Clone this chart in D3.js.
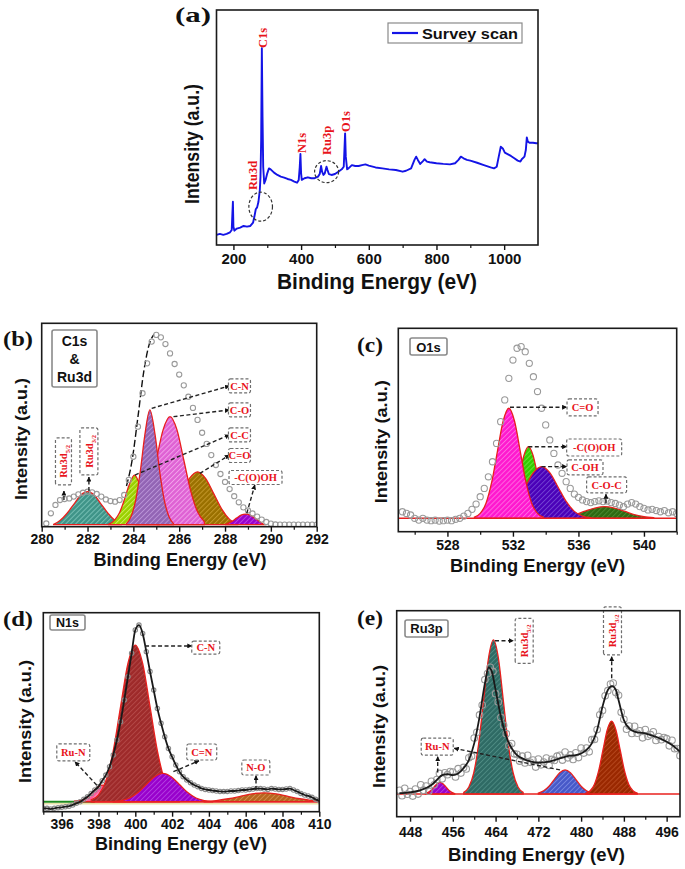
<!DOCTYPE html>
<html><head><meta charset="utf-8">
<script src="https://cdn.jsdelivr.net/npm/d3@7"></script>
<style>body{margin:0;background:#fff}svg{display:block}</style>
</head><body>
<script>
// ================= DATA =================
// (a) survey scan
const surveyEnergy = [150,160,170,180,190,195,197,198.5,200,203,210,220,230,240,250,258,262,266,270,274,278,280,282,284,286,288,291,295,300,305,310,320,330,340,350,360,370,380,388,393,396,398,400,402,410,420,430,440,450,455,459,462,466,470,475,478,482,490,500,510,520,526,530,532,536,540,550,560,570,580,590,600,620,640,660,680,700,710,725,735,740,745,752,760,765,772,780,800,820,840,855,865,872,880,890,900,920,940,960,970,978,984,990,996,1002,1010,1020,1030,1040,1048,1052,1060,1064,1067,1070,1075,1085,1095,1100];
const surveyIntensity = [4.3,4.7,4.3,4.7,5.4,6.4,13.5,18.4,7.8,6.1,7.0,7.4,8.1,7.8,8.1,9.5,12.1,15.2,16.0,18.4,23.4,29.1,44.7,83.7,54.6,33.3,26.2,27.7,30.5,32.6,32.2,30.8,29.8,29.1,28.7,28.1,27.7,27.0,26.5,27.7,33.3,38.7,30.5,27.7,28.4,28.8,28.4,28.4,29.1,30.2,33.6,31.2,29.8,30.5,33.3,31.9,30.2,29.8,30.2,31.2,32.2,33.3,47.5,37.6,32.2,32.6,34.0,33.6,33.6,34.0,34.3,33.8,33.0,32.6,32.2,31.9,31.2,31.6,32.6,36.2,37.6,36.2,34.5,35.7,36.5,35.5,35.2,34.8,34.5,34.3,34.8,36.2,37.6,36.9,36.2,35.9,35.0,34.0,33.0,32.6,33.3,37.6,41.8,41.1,39.3,38.7,37.9,36.9,35.9,35.5,36.5,37.6,40.4,45.8,44.0,43.5,43.5,43.3,43.3];
const surveyTicks = [200,400,600,800,1000];
const surveyMinorTicks = [300,500,700,900];
const surveyPeakLabels = [
  {text:"C1s", e:286, i:83.8}, {text:"N1s", e:402.4, i:39.1},
  {text:"Ru3p", e:476.2, i:38.3}, {text:"O1s", e:532.2, i:48.1}, {text:"Ru3d", e:257.7, i:23.4}];
const surveyCircles = [{e:280.5, i:16.3, rx:11.8, ry:14.5}, {e:475.3, i:31.2, rx:12, ry:11}];

// (b) C1s & Ru3d
const c1sEnergy = [280.2,280.4,280.6,280.8,281.0,281.2,281.4,281.6,281.8,282.0,282.2,282.4,282.6,282.8,283.0,283.2,283.4,283.6,283.8,284.0,284.2,284.4,284.6,284.8,285.0,285.2,285.4,285.6,285.8,286.0,286.2,286.4,286.6,286.8,287.0,287.2,287.4,287.6,287.8,288.0,288.2,288.4,288.6,288.8,289.0,289.2,289.4,289.6,289.8,290.0,290.2,290.4,290.6,290.8,291.0,291.2,291.4,291.6,291.8,292.0];
const c1sIntensity = [1.6,6.6,10.7,13.1,13.6,13.9,14.8,15.9,16.7,17.2,16.9,16.1,14.8,13.4,12.6,12.3,13.1,15.6,23.0,34.4,49.2,65.6,80.3,91.0,94.3,93.1,89.8,85.2,80.0,74.8,69.5,63.9,58.4,52.5,46.2,40.7,35.2,30.3,25.9,22.0,18.5,15.0,12.0,9.5,8.0,6.5,5.0,3.5,2.3,1.5,1.1,1.0,1.0,1.0,1.0,1.0,1.0,1.0,1.0,1.0];
const c1sFit = [[283.7,20],[283.95,33],[284.2,54],[284.45,76],[284.7,90],[284.9,94.5]];
const c1sRu3dPeak = [[280.5,1],[280.8,3],[281.1,6.5],[281.4,11],[281.7,15.5],[282.0,17.2],[282.3,15.5],[282.6,11],[282.9,6.5],[283.2,3],[283.5,1]];
const c1sCOPeak2 = [[285.05,1.2],[285.4,3.6],[285.75,8.8],[286.1,16.4],[286.45,23.8],[286.8,27],[287.15,23.8],[287.5,16.4],[287.85,8.8],[288.2,3.6],[288.55,1.2]];
const c1sCCPeak = [[282.9,1],[283.2,3.5],[283.4,7],[283.6,13],[283.8,20],[284.05,25.4],[284.3,20],[284.5,13],[284.7,7],[284.9,3.5],[285.1,1]];
const c1sCOPeak = [[284.1,2.4],[284.4,7.3],[284.7,17.6],[285.0,32.8],[285.3,47.7],[285.6,54.1],[285.9,47.7],[286.2,32.8],[286.5,17.6],[286.8,7.3],[287.1,2.4]];
const c1sCNPeak = [[283.7,1.5],[283.9,5],[284.1,13],[284.3,27],[284.5,45],[284.72,57.4],[284.95,45],[285.15,27],[285.35,13],[285.55,5],[285.75,1.5]];
const c1sCOOHPeak = [[288.0,1],[288.3,2.6],[288.5,4.2],[288.7,5.7],[288.9,6.2],[289.1,5.7],[289.3,4.2],[289.5,2.6],[289.7,1]];

// (c) O1s
const o1sEnergy = [525.25,525.5,525.75,526,526.25,526.5,526.75,527,527.25,527.5,527.75,528,528.25,528.5,528.75,529,529.25,529.5,529.75,530,530.25,530.5,530.75,531,531.25,531.5,531.75,532,532.25,532.5,532.75,533,533.25,533.5,533.75,534,534.25,534.5,534.75,535,535.25,535.5,535.75,536,536.25,536.5,536.75,537,537.25,537.5,537.75,538,538.25,538.5,538.75,539,539.25,539.5,539.75,540,540.25,540.5,540.75,541,541.25,541.5,541.75,542];
const o1sIntensity = [9.8,9.0,8.2,6.6,5.7,6.6,5.7,5.4,5.7,5.2,5.4,5.7,5.4,6.1,6.6,7.7,9.0,11.0,13.6,17.2,21.3,27.0,34.4,43.4,54.1,64.8,75.4,84.4,90.2,91.0,88.5,82.8,76.2,68.9,60.7,52.5,45.1,38.5,32.8,28.7,24.6,21.3,18.5,16.9,15.6,14.8,14.3,14.8,15.2,14.8,15.1,14.3,13.9,13.1,12.3,13.6,14.3,13.6,12.3,11.5,10.7,11.0,10.4,9.8,10.4,9.3,9.8,9.0];
const o1sCOCPeak = [[534.6,6.85],[535.2,7.4],[535.8,8.4],[536.4,10.1],[537.0,11.6],[537.6,12.3],[538.2,11.6],[538.8,10.1],[539.4,8.4],[540.0,7.4],[540.6,6.85]];
const o1sCOOHPeak = [[531.3,7.0],[531.575,8.1],[531.85,11.4],[532.125,18.0],[532.4,28.0],[532.675,37.6],[532.95,41.8],[533.225,37.6],[533.5,28.0],[533.775,18.0],[534.05,11.4],[534.325,8.1],[534.6,7.0]];
const o1sCOHPeak = [[530.75,6.9],[531.25,7.7],[531.75,10.0],[532.25,14.9],[532.75,22.0],[533.25,29.0],[533.75,32.0],[534.25,29.0],[534.75,22.0],[535.25,14.9],[535.75,10.0],[536.25,7.7],[536.75,6.9]];
const o1sCdOPeak = [[529.65,7.2],[530.0,9.0],[530.35,13.9],[530.7,24.2],[531.05,39.4],[531.4,54.3],[531.75,60.7],[532.1,54.3],[532.45,39.4],[532.8,24.2],[533.15,13.9],[533.5,9.0],[533.85,7.2]];

// (d) N1s
const n1sEnergy = [395.0,395.2,395.4,395.6,395.8,396.0,396.2,396.4,396.6,396.8,397.0,397.2,397.4,397.6,397.8,398.0,398.2,398.4,398.6,398.8,399.0,399.2,399.4,399.6,399.8,400.0,400.2,400.4,400.6,400.8,401.0,401.2,401.4,401.6,401.8,402.0,402.2,402.4,402.6,402.8,403.0,403.2,403.4,403.6,403.8,404.0,404.2,404.4,404.6,404.8,405.0,405.2,405.4,405.6,405.8,406.0,406.2,406.4,406.6,406.8,407.0,407.2,407.4,407.6,407.8,408.0,408.2,408.4,408.6,408.8,409.0,409.2,409.4,409.6,409.8,410.0];
const n1sIntensity = [1.7,1.7,1.3,1.7,2.0,2.2,2.5,2.8,3.4,4.2,5.0,6.2,7.5,9.2,10.9,12.6,15.6,18.4,22.6,28.5,36.0,45.2,56.1,67.8,79.6,91.3,93.8,89.6,80.4,70.4,61.1,51.9,44.4,37.7,31.8,27.6,23.5,20.1,17.6,15.9,14.6,13.4,12.6,11.7,11.2,10.9,10.6,10.4,10.2,10.1,10.2,10.4,10.4,10.6,10.9,10.9,11.2,11.4,11.6,11.6,11.4,11.2,11.6,11.4,11.2,11.2,11.4,11.6,10.9,10.1,9.2,8.4,7.9,7.2,6.2,5.5];
const n1sNOPeak = [[403.75,5.2],[404.4,5.6],[405.05,6.5],[405.7,7.7],[406.35,9.0],[407.0,9.5],[407.65,9.0],[408.3,7.7],[408.95,6.5],[409.6,5.6],[410.0,5.3]];
const n1sRuNPeak = [[396.7,5.3],[397.2,6.2],[397.45,7.7],[397.7,10.1],[397.95,12.4],[398.2,13.4],[398.45,12.4],[398.7,10.1],[398.95,7.7],[399.2,6.2],[399.7,5.3]];
const n1sCNPeak = [[397.6,5.9],[398.0,8.5],[398.4,15.6],[398.8,30.6],[399.2,52.8],[399.6,74.5],[400.0,83.75],[400.4,74.5],[400.8,52.8],[401.2,30.6],[401.6,15.6],[402.0,8.5],[402.4,5.9]];
const n1sCdNPeak = [[398.8,5.1],[399.25,5.6],[399.7,6.9],[400.15,9.6],[400.6,13.7],[401.05,17.6],[401.5,19.3],[401.95,17.6],[402.4,13.7],[402.85,9.6],[403.3,6.9],[403.75,5.6],[404.2,5.1]];

// (e) Ru3p
const ru3pEnergy = [446,446.5,447,447.5,448,448.5,449,449.5,450,450.5,451,451.5,452,452.5,453,453.5,454,454.5,455,455.5,456,456.5,457,457.5,458,458.5,459,459.5,460,460.5,461,461.5,462,462.5,463,463.5,464,464.5,465,465.5,466,466.5,467,467.5,468,468.5,469,469.5,470,470.5,471,471.5,472,472.5,473,473.5,474,474.5,475,475.5,476,476.5,477,477.5,478,478.5,479,479.5,480,480.5,481,481.5,482,482.5,483,483.5,484,484.5,485,485.5,486,486.5,487,487.5,488,488.5,489,489.5,490,490.5,491,491.5,492,492.5,493,493.5,494,494.5,495,495.5,496,496.5,497,497.5,498,498.5];
const ru3pIntensity = [12.8,10.2,13.8,10.9,12.2,10.0,13.4,11.0,15.5,12.9,14.9,12.4,17.2,15.5,18.0,21.0,18.4,21.3,20.4,21.9,21.7,19.3,23.3,21.2,23.9,23.2,28.6,29.4,38.2,41.0,49.4,54.2,66.5,69.5,72.5,70.5,59.7,55.7,48.2,44.4,40.3,34.5,35.5,30.5,30.3,27.0,29.4,26.1,29.8,26.4,27.5,24.1,28.0,25.2,26.5,28.5,24.9,27.8,27.3,29.4,29.8,27.5,31.4,28.6,30.0,27.8,31.0,28.7,33.3,30.9,33.3,31.5,37.4,37.5,42.3,49.5,51.6,58.7,61.2,64.4,64.9,60.3,58.9,50.7,47.3,42.5,44.0,40.4,43.9,40.5,41.7,38.3,42.3,39.0,39.8,41.2,37.0,38.9,37.4,38.4,37.9,34.4,37.1,33.0,33.1,29.6];
const ru3pFit = [[446,11.3],[448,11.8],[450,12.9],[452,15.4],[453,17.8],[454,20.2],[455,20.7],[456,20.2],[457,21.0],[458,23.5],[459,27.5],[460,35.6],[461,48.5],[462,64.7],[462.7,72.5],[463.3,70.4],[464,61.5],[465,48.5],[466,38.8],[467,33.2],[468,29.9],[469,28.3],[470,27.2],[472,26.2],[474,26.7],[476,28.3],[477,29.1],[478,29.6],[479,29.9],[480,30.7],[481,32.4],[482,35.6],[483,42.1],[484,53.4],[485,61.5],[485.8,63.4],[486.5,61.5],[487,56.6],[488,46.9],[489,42.9],[490,41.3],[491,40.8],[492,40.5],[493,39.6],[494,38.8],[495,37.7],[496,36.4],[497,34.8],[498,32.7],[498.5,31.6]];
const ru3pRuNPeak = [[450.85,11.25],[451.4,11.8],[451.95,12.85],[452.5,14.5],[453.05,16.0],[453.6,16.7],[454.15,16.0],[454.7,14.5],[455.25,12.85],[455.8,11.8],[456.35,11.25]];
const ru3pD52Peak = [[458.05,11.8],[458.975,14.3],[459.9,21.1],[460.825,35.3],[461.75,56.4],[462.675,77.0],[463.6,85.8],[464.525,77.0],[465.45,56.4],[466.375,35.3],[467.3,21.1],[468.225,14.3],[469.15,11.8]];
const ru3pMidPeak = [[472,11.5],[473,12.6],[474,14.8],[475,18.1],[476,21.3],[477,22.7],[478,21.3],[479,18.1],[480,14.8],[481,12.6],[482,11.5]];
const ru3pD32Peak = [[480.9,11.4],[481.7,12.6],[482.5,15.8],[483.3,22.5],[484.1,32.5],[484.9,42.2],[485.7,46.4],[486.5,42.2],[487.3,32.5],[488.1,22.5],[488.9,15.8],[489.7,12.6],[490.5,11.4]];

// ================= DRAWING =================
const SANS = "'Liberation Sans', Arial, sans-serif";
const SERIF = "'Liberation Serif', 'Times New Roman', serif";
const RED = "#e8141b";
const svg = d3.select("body").append("svg").attr("width",685).attr("height",869);
svg.append("rect").attr("width",685).attr("height",869).attr("fill","#fff");
const defs = svg.append("defs");
defs.append("marker").attr("id","ah").attr("viewBox","0 0 10 10").attr("refX",9).attr("refY",5)
  .attr("markerWidth",5).attr("markerHeight",5).attr("markerUnits","userSpaceOnUse").attr("orient","auto")
  .append("path").attr("d","M0,0L10,5L0,10z").attr("fill","#111");

function hatch(id, base, line){
  const p = defs.append("pattern").attr("id",id).attr("patternUnits","userSpaceOnUse")
    .attr("width",3.5).attr("height",3.5).attr("patternTransform","rotate(45)");
  p.append("rect").attr("width",3.5).attr("height",3.5).attr("fill",base);
  p.append("line").attr("x1",0.5).attr("y1",0).attr("x2",0.5).attr("y2",3.5).attr("stroke",line).attr("stroke-width",0.9);
}
const zip = (xs, ys) => xs.map((v,i)=>[v, ys[i]]);

function axisTitles(cfg){
  svg.append("text").attr("x",cfg.title.x).attr("y",cfg.title.y).attr("text-anchor","middle")
    .attr("font-family",SANS).attr("font-weight","bold").attr("font-size",cfg.title.size)
    .attr("textLength",cfg.title.len).attr("lengthAdjust","spacingAndGlyphs").attr("fill","#111")
    .text("Binding Energy (eV)");
  svg.append("text").attr("transform",`translate(${cfg.ytitle.x},${cfg.ytitle.y}) rotate(-90)`).attr("text-anchor","middle")
    .attr("font-family",SANS).attr("font-weight","bold").attr("font-size",cfg.ytitle.size)
    .attr("textLength",cfg.ytitle.len).attr("lengthAdjust","spacingAndGlyphs").attr("fill","#111")
    .text("Intensity (a.u.)");
  svg.append("text").attr("x",cfg.plabel.x).attr("y",cfg.plabel.y).attr("font-family",SERIF).attr("font-weight","bold")
    .attr("font-size",21).attr("textLength",cfg.plabel.len).attr("lengthAdjust","spacingAndGlyphs").attr("fill","#111")
    .text(cfg.plabel.text);
}
function bottomAxis(x, y1, major, minor, size, pad){
  const ga = svg.append("g").attr("transform",`translate(0,${y1})`)
    .call(d3.axisBottom(x).tickValues(major).tickSize(5).tickPadding(pad).tickFormat(d3.format("d")));
  ga.select(".domain").remove();
  ga.selectAll("line").attr("stroke","#111").attr("stroke-width",1.4);
  ga.selectAll("text").attr("font-family",SANS).attr("font-weight","bold").attr("font-size",size).attr("fill","#111");
  const gm = svg.append("g").attr("transform",`translate(0,${y1})`)
    .call(d3.axisBottom(x).tickValues(minor).tickSize(3).tickFormat(""));
  gm.select(".domain").remove();
  gm.selectAll("line").attr("stroke","#111").attr("stroke-width",1.2);
}
function frame(f){
  svg.append("rect").attr("x",f[0]).attr("y",f[1]).attr("width",f[2]-f[0]).attr("height",f[3]-f[1])
    .attr("fill","none").attr("stroke","#1a1a1a").attr("stroke-width",1.6);
}
function legendBox(lg){
  svg.append("rect").attr("x",lg.x).attr("y",lg.y).attr("width",lg.w).attr("height",lg.h).attr("rx",2)
    .attr("fill","#fff").attr("stroke","#8a8a8a").attr("stroke-width",1.6);
  lg.lines.forEach(([t,by])=>svg.append("text").attr("x",lg.x+lg.w/2).attr("y",by).attr("text-anchor","middle")
    .attr("font-family",SANS).attr("font-weight","bold").attr("font-size",lg.size||13).attr("fill","#111").text(t));
}
function labelBox(x, y, b){
  const g = svg.append("g").attr("transform",`translate(${x(b.e)},${y(b.i)})` + (b.rot?" rotate(-90)":""));
  g.append("rect").attr("x",-b.w/2).attr("y",-b.h/2).attr("width",b.w).attr("height",b.h).attr("rx",2)
    .attr("fill","#fff").attr("stroke","#6e6e6e").attr("stroke-width",1.2).attr("stroke-dasharray","3,2");
  const t = g.append("text").attr("text-anchor","middle").attr("dy","0.35em").attr("font-family",SERIF)
    .attr("font-weight","bold").attr("font-size",b.size||10.5).attr("fill",RED);
  t.append("tspan").text(b.text);
  if(b.sub) t.append("tspan").attr("font-size",6.5).attr("dy","3").text(b.sub);
}
function arrow(x, y, a){
  svg.append("line").attr("x1",x(a[0][0])).attr("y1",y(a[0][1])).attr("x2",x(a[1][0])).attr("y2",y(a[1][1]))
    .attr("stroke","#222").attr("stroke-width",1.4).attr("stroke-dasharray","4,2.5").attr("marker-end","url(#ah)");
}

function panel(cfg){
  const [x0,y0,x1,y1] = cfg.frame;
  const x = d3.scaleLinear().domain(cfg.xDomain).range([x0,x1]);
  const y = d3.scaleLinear().domain([0,100]).range([y1,y0]);
  defs.append("clipPath").attr("id","clip"+cfg.id).append("rect").attr("x",x0).attr("y",y0).attr("width",x1-x0).attr("height",y1-y0);
  const plot = svg.append("g").attr("clip-path",`url(#clip${cfg.id})`);
  (cfg.baselines||[]).forEach(b=>plot.append("line").attr("x1",x(b.from)).attr("x2",x(b.to)).attr("y1",y(b.v)).attr("y2",y(b.v))
    .attr("stroke",b.color).attr("stroke-width",b.w||1.6));
  cfg.components.forEach((c,i)=>{
    const pid = `h${cfg.id}${i}`; hatch(pid, c.fill, c.line);
    const area = d3.area().x(d=>x(d[0])).y0(y(cfg.baseline)).y1(d=>y(d[1])).curve(d3.curveMonotoneX);
    plot.append("path").datum(c.pts).attr("d",area).attr("fill",`url(#${pid})`)
      .attr("stroke","#e8201e").attr("stroke-width",1.3);
  });
  (cfg.redBase||[]).forEach(b=>plot.append("line").attr("x1",x(b.from)).attr("x2",x(b.to)).attr("y1",y(b.v)).attr("y2",y(b.v))
    .attr("stroke","#e8201e").attr("stroke-width",1.6));
  const line = d3.line().x(d=>x(d[0])).y(d=>y(d[1])).curve(d3.curveMonotoneX);
  if(cfg.dashFit) plot.append("path").datum(cfg.dashFit).attr("d",line).attr("fill","none").attr("stroke","#111")
      .attr("stroke-width",1.4).attr("stroke-dasharray","7,3");
  plot.selectAll(null).data(cfg.circles).join("circle").attr("cx",d=>x(d[0])).attr("cy",d=>y(d[1]))
    .attr("r",cfg.r).attr("fill","none").attr("stroke",cfg.cStroke||"#9a9a9a").attr("stroke-width",1.1);
  if(cfg.fit) plot.append("path").datum(cfg.fit).attr("d",line).attr("fill","none").attr("stroke","#1a1a1a").attr("stroke-width",1.8);
  cfg.arrows.forEach(a=>arrow(x,y,a));
  cfg.boxes.forEach(b=>labelBox(x,y,b));
  frame(cfg.frame);
  bottomAxis(x, y1, cfg.major, cfg.minor, cfg.tickSize||14, cfg.pad||4);
  axisTitles(cfg);
  legendBox(cfg.legend);
}

// ---------- (a) survey ----------
(function(){
  const f = [216.5,10,538,245];
  const x = d3.scaleLinear().domain([150,1100]).range([f[0],f[2]]);
  const y = d3.scaleLinear().domain([0,100]).range([f[3],f[1]]);
  svg.append("path").datum(zip(surveyEnergy,surveyIntensity))
    .attr("d", d3.line().x(d=>x(d[0])).y(d=>y(d[1])))
    .attr("fill","none").attr("stroke","#1414e6").attr("stroke-width",1.9).attr("stroke-linejoin","round");
  surveyCircles.forEach(c=>svg.append("ellipse").attr("cx",x(c.e)).attr("cy",y(c.i)).attr("rx",c.rx).attr("ry",c.ry)
    .attr("fill","none").attr("stroke","#333").attr("stroke-width",1.2).attr("stroke-dasharray","3,2"));
  surveyPeakLabels.forEach(l=>svg.append("text").attr("transform",`translate(${x(l.e)},${y(l.i)}) rotate(-90)`)
    .attr("dy","0.35em").attr("font-family",SERIF).attr("font-weight","bold").attr("font-size",12.5).attr("fill",RED).text(l.text));
  frame(f);
  bottomAxis(x, f[3], surveyTicks, surveyMinorTicks, 15, 3);
  axisTitles({title:{x:377,y:289,size:22,len:200}, ytitle:{x:199,y:144,size:21,len:120}, plabel:{text:"(a)",x:175,y:22,len:36}});
  svg.append("rect").attr("x",388).attr("y",23).attr("width",134).attr("height",20).attr("fill","#fff")
    .attr("stroke","#8a8a8a").attr("stroke-width",1.2);
  svg.append("line").attr("x1",392).attr("x2",418).attr("y1",33).attr("y2",33).attr("stroke","#1414e6").attr("stroke-width",2.2);
  svg.append("text").attr("x",422).attr("y",38.5).attr("font-family",SANS).attr("font-weight","bold").attr("font-size",15)
    .attr("textLength",96).attr("lengthAdjust","spacingAndGlyphs").attr("fill","#111").text("Survey scan");
})();

// ---------- (b) ----------
panel({id:"b", frame:[41.7,323.3,316.7,526.7], xDomain:[280,292], major:d3.range(280,293,2), minor:d3.range(281,292,2),
  baseline:1, r:2.6, pad:2,
  components:[
    {pts:c1sRu3dPeak, fill:"#3f9488", line:"#7cc4b9"},
    {pts:c1sCOPeak2, fill:"#9a7000", line:"#c79a2c"},
    {pts:c1sCCPeak, fill:"#9ad000", line:"#d0f060"},
    {pts:c1sCOPeak, fill:"#df62d4", line:"#f3a6ec"},
    {pts:c1sCNPeak, fill:"#9264b4", line:"#bb96d8"},
    {pts:c1sCOOHPeak, fill:"#9800cc", line:"#bb44e4"}],
  circles:zip(c1sEnergy,c1sIntensity), dashFit:c1sFit,
  arrows:[[[284.8,58.2],[288.19,69.2]],[[285.75,54.1],[288.19,57.4]],[[284.07,25.4],[288.19,45.1]],[[286.9,26.2],[288.19,35.2]],
          [[288.95,6.6],[289.3,20.5]],[[280.97,13.1],[280.97,17.5]],[[282.06,17.5],[282.06,24.4]]],
  boxes:[{text:"C-N",e:288.63,i:69.2,w:22,h:14},{text:"C-O",e:288.63,i:57.4,w:22,h:14},{text:"C-C",e:288.63,i:45.1,w:22,h:14},
         {text:"C=O",e:288.63,i:35.0,w:22,h:14},{text:"-C(O)OH",e:289.33,i:24.2,w:53,h:14},
         {text:"Ru3d",sub:"5/2",e:280.95,i:32.1,w:47,h:16,rot:true},{text:"Ru3d",sub:"3/2",e:282.06,i:37.0,w:47,h:18,rot:true}],
  title:{x:180,y:566,size:18,len:173}, ytitle:{x:27,y:439,size:17,len:122}, plabel:{text:"(b)",x:3,y:346,len:30},
  legend:{x:52,y:330,w:45,h:57,size:14,lines:[["C1s",346],["&",364],["Ru3d",382]]}});

// ---------- (c) ----------
panel({id:"c", frame:[398.3,328.3,676.7,531.7], xDomain:[525,542], major:[528,532,536,540], minor:[526,530,534,538,542],
  baseline:6.6, r:3.1, pad:3,
  components:[
    {pts:o1sCOCPeak, fill:"#2e6a12", line:"#4e8a30"},
    {pts:o1sCOOHPeak, fill:"#33cc00", line:"#6ee640"},
    {pts:o1sCOHPeak, fill:"#4a00b8", line:"#7444d4"},
    {pts:o1sCdOPeak, fill:"#ff18cf", line:"#ff6ee2"}],
  redBase:[{from:525,to:542,v:6.6}],
  circles:zip(o1sEnergy,o1sIntensity),
  arrows:[[[531.82,61.2],[535.28,61.2]],[[532.94,41.8],[535.28,41.8]],[[533.75,32.0],[535.28,32.0]],[[537.68,14.0],[537.68,18.4]]],
  boxes:[{text:"C=O",e:536.25,i:61.1,w:31,h:17},{text:"-C(O)OH",e:536.96,i:41.4,w:55,h:17},
         {text:"C-OH",e:536.4,i:31.6,w:36,h:15},{text:"C-O-C",e:537.72,i:23.0,w:40,h:16}],
  title:{x:537.5,y:572,size:18,len:175}, ytitle:{x:387,y:441.7,size:17,len:123}, plabel:{text:"(c)",x:357,y:352,len:26},
  legend:{x:410,y:338,w:37,h:17,size:13,lines:[["O1s",351.5]]}});

// ---------- (d) ----------
panel({id:"d", frame:[43.3,612.7,319.3,811.7], xDomain:[395,410], major:d3.range(396,411,2), minor:d3.range(395,410,2),
  baseline:5, r:2.2, cStroke:"#8c8c8c", pad:2,
  baselines:[{from:395,to:410,v:4.0,color:"#e9e2a8",w:1.4},{from:395,to:397.8,v:5.0,color:"#1f8a1f",w:1.8}],
  components:[
    {pts:n1sNOPeak, fill:"#b5651e", line:"#d48c4c"},
    {pts:n1sRuNPeak, fill:"#ff5a9a", line:"#ffa0c6"},
    {pts:n1sCNPeak, fill:"#9e2a2a", line:"#b44a48"},
    {pts:n1sCdNPeak, fill:"#9800cc", line:"#b33ee0"}],
  redBase:[{from:397.6,to:410,v:5.0}],
  circles:zip(n1sEnergy,n1sIntensity), fit:zip(n1sEnergy,n1sIntensity),
  arrows:[[[400.53,83.3],[403.07,83.3]],[[397.9,13.4],[396.72,25.1]],[[402.07,20.1],[403.46,25.6]],[[406.56,10.9],[406.56,18.1]]],
  boxes:[{text:"C-N",e:403.83,i:82.5,w:28,h:13},{text:"Ru-N",e:396.63,i:29.8,w:33,h:17},
         {text:"C=N",e:403.61,i:30.0,w:30,h:16},{text:"N-O",e:406.55,i:22.2,w:28,h:15}],
  title:{x:181,y:850,size:18,len:172}, ytitle:{x:31,y:721.5,size:17,len:123}, plabel:{text:"(d)",x:3,y:626,len:30},
  legend:{x:50,y:615,w:35,h:15,size:12.5,lines:[["N1s",627]]}});

// ---------- (e) ----------
panel({id:"e", frame:[396.7,610.7,680,816.7], xDomain:[445.5,498.5], major:d3.range(448,497,8), minor:d3.range(452,493,8),
  baseline:11, r:3.3, pad:5,
  components:[
    {pts:ru3pRuNPeak, fill:"#9800cc", line:"#b640e0"},
    {pts:ru3pD52Peak, fill:"#2e6a64", line:"#4f8c84"},
    {pts:ru3pMidPeak, fill:"#4658c8", line:"#7888e2"},
    {pts:ru3pD32Peak, fill:"#9a2800", line:"#b84a20"}],
  redBase:[{from:445.5,to:498.5,v:11}],
  circles:zip(ru3pEnergy,ru3pIntensity), fit:ru3pFit,
  arrows:[[[463.89,85.4],[467.32,85.4]],[[485.72,67.2],[485.72,77.7]],[[453.17,21.4],[453.17,29.1]],[[476.05,22.7],[456.28,33.2]]],
  boxes:[{text:"Ru-N",e:453.08,i:34.0,w:32,h:17},
         {text:"Ru3d",sub:"5/2",e:469.35,i:85.4,w:45,h:18,rot:true},{text:"Ru3d",sub:"3/2",e:485.87,i:90.2,w:48,h:18,rot:true}],
  title:{x:536.5,y:861,size:18,len:177}, ytitle:{x:385,y:726.5,size:17,len:123}, plabel:{text:"(e)",x:357,y:625,len:26},
  legend:{x:405,y:620,w:43,h:17,size:13,lines:[["Ru3p",633]]}});
</script>
</body></html>
